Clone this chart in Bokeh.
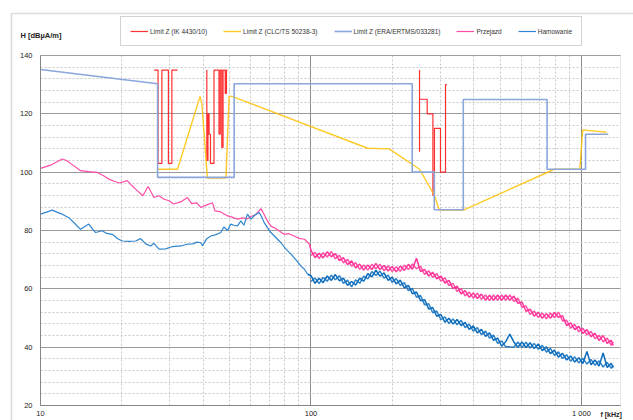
from bokeh.plotting import figure
from bokeh.models import FixedTicker, Legend, LegendItem, Label, BoxAnnotation, Range1d
from bokeh.embed import file_html
from bokeh.resources import INLINE

nan = float("nan")

# ---- Limit Z (IK 4430/10) ----
ik_f = [26.3, 27.2, 27.2, 28.1, 28.1, 29.7, 29.7, 30.6, 30.6, 32.1, nan,
        41.2, 41.2, 41.6, 41.6, 42.0, 42.0, 42.5, 42.5, 43.8, 43.8, 45.7, 45.7, 46.2, 46.2,
        46.8, 46.8, 47.3, 47.3, 48.2, 48.2, 48.7, 48.7, 49.1, nan,
        251.9, 251.9, 251.9, 268.9, 268.9, 282.3, 282.3, 286.0, 286.0, 301.1, 301.1, 314.3, 314.3, 318.0]
ik_y = [135, 135, 103, 103, 135, 135, 103, 103, 135, 135, nan,
        135, 104, 104, 120, 120, 113, 113, 103, 103, 135, 135, 113, 113, 135,
        135, 108.5, 108.5, 135, 135, 127, 127, 135, 135, nan,
        107, 135, 125, 125, 120, 120, 92, 92, 115, 115, 100, 100, 130, 130]

# ---- Limit Z (CLC/TS 50238-3) ----
clc_f = [27.1, 32.1, 38.9, 39.5, 41.4, 48.5, 49.8, 51.0, 162, 194.5, 252, 286, 298, 366, 794, 986, 1010, 1238]
clc_y = [101, 101, 126, 123.5, 98, 98, 126, 126, 108.2, 108, 101, 92, 87, 87, 101, 101, 114.5, 113.7]

# ---- Limit Z (ERA/ERTMS/033281) ----
era_f = [10, 27.1, 27.1, 52.0, 52.0, 236.7, 236.7, 285.6, 285.6, 365.6, 365.6, 746, 746, 1035, 1035, 1256]
era_y = [135.2, 130.3, 98.2, 98.2, 130.3, 130.3, 100, 100, 87.1, 87.1, 124.9, 124.9, 101, 101, 113, 113]

# ---- Przejazd (below 100 kHz) ----
prz_f_low = [10, 10.89, 12.03, 12.48, 13.14, 14.06, 15.05, 16.23, 17.12, 17.91, 18.78, 19.63,
             20.94, 21.72, 22.47, 23.9, 25.0, 26.26, 27.43, 28.53, 29.84, 31.07, 32.98, 34.92,
             36.22, 37.85, 39.12, 41.18, 43.27, 44.12, 46.03, 49.18, 51.04, 53.48, 55.99, 58.24,
             59.95, 62.6, 65.33, 67.1, 69.0, 71.1, 74.3, 79.5, 82.9, 86.6, 90.3, 94.6, 98.8]
prz_y_low = [101.3, 102.4, 104.5, 104.0, 102.5, 100.5, 100.2, 99.9, 98.8, 97.6, 96.8, 96.3,
             97.1, 95.5, 94.2, 91.9, 95.1, 91.3, 91.9, 90.8, 90.2, 89.1, 89.8, 91.3,
             89.2, 89.5, 87.9, 88.8, 89.5, 86.7, 86.5, 85.0, 84.6, 83.9, 84.3, 84.0,
             84.8, 85.5, 87.5, 85.5, 83.3, 81.5, 80.6, 78.7, 78.9, 78.1, 77.3, 77.0, 75.3]

# ---- Hamowanie (below 100 kHz) ----
ham_f_low = [10, 10.52, 11.05, 11.56, 12.03, 12.73, 13.36, 14.06, 14.55, 15.1, 15.58, 15.98,
             16.93, 17.56, 18.44, 19.29, 20.07, 21.18, 22.47, 23.47, 24.48, 25.55, 26.26, 27.43,
             29.04, 30.74, 32.98, 34.92, 36.56, 37.85, 39.12, 39.72, 41.18, 42.62, 44.47, 46.42,
             47.63, 49.18, 50.54, 51.86, 53.48, 55.04, 56.48, 58.24, 59.95, 62.03, 64.35, 65.86,
             67.14, 69.0, 71.1, 74.3, 77.43, 80.8, 84.33, 88.0, 91.8, 94.6, 97.2]
ham_y_low = [85.6, 86.3, 87.0, 86.2, 85.6, 84.4, 82.5, 80.4, 81.3, 82.2, 80.5, 79.3,
             79.9, 79.0, 78.7, 77.2, 76.4, 76.3, 76.4, 77.2, 75.4, 74.7, 75.6, 73.6,
             73.7, 74.5, 74.7, 75.3, 75.4, 76.0, 75.8, 74.8, 77.2, 78.1, 78.6, 79.3,
             81.2, 80.0, 82.2, 81.8, 81.6, 83.3, 81.8, 85.6, 83.9, 85.3, 86.2, 84.5,
             82.7, 81.0, 79.3, 77.5, 75.8, 73.6, 71.9, 69.9, 67.8, 66.7, 65.0]

# ---- noisy part, 100 kHz and up: the two edges of the band, read alternately ----
f_dense = [100, 103.5, 107.2, 110.9, 114.8, 118.9, 123.0, 127.4, 131.8, 136.5,
           141.3, 146.2, 151.4, 156.7, 162.2, 167.9, 173.8, 179.9, 186.2, 192.8,
           199.5, 206.5, 213.8, 221.3, 229.1, 237.1, 245.5, 254.1, 263.0, 272.3,
           281.8, 291.7, 302.0, 312.6, 323.6, 335.0, 346.7, 358.9, 371.5, 384.6,
           398.1, 412.1, 426.6, 441.6, 457.1, 473.2, 489.8, 507.0, 524.8, 543.3,
           562.3, 582.1, 602.6, 623.7, 645.7, 668.3, 691.8, 716.1, 741.3, 767.4,
           794.3, 822.2, 851.1, 881.0, 912.0, 944.1, 977.2, 1011.6, 1047.1, 1083.9,
           1122.0, 1161.4, 1202.3, 1244.5, 1288.2, 1310]
prz_y_dense_a = [73.2, 70.7, 72.2, 70.6, 72.7, 71.0, 72.1, 69.7, 70.7, 68.3,
                 69.6, 67.2, 68.5, 66.4, 68.2, 66.6, 68.7, 66.6, 68.0, 66.1,
                 67.7, 65.8, 67.8, 66.3, 68.4, 66.7, 70.5, 65.9, 66.7, 64.4,
                 65.7, 63.4, 64.4, 62.0, 62.9, 60.1, 60.9, 58.3, 59.4, 57.1,
                 58.6, 56.7, 58.2, 56.1, 57.8, 56.1, 57.9, 56.1, 57.9, 56.1,
                 57.5, 55.0, 55.5, 52.3, 53.0, 50.6, 52.0, 49.9, 51.5, 49.9,
                 51.9, 50.2, 50.8, 47.4, 48.3, 46.0, 47.1, 44.7, 46.0, 43.6,
                 44.7, 42.3, 44.0, 41.3, 42.4, 40.6]
prz_y_dense_b = [71.5, 72.5, 70.4, 72.4, 70.9, 72.8, 70.3, 71.5, 68.9, 70.1,
                 67.8, 69.0, 66.7, 68.2, 66.4, 68.4, 66.9, 68.4, 66.2, 67.9,
                 65.9, 67.6, 66.0, 68.1, 66.6, 68.5, 66.9, 67.7, 64.9, 66.2,
                 63.9, 65.2, 62.6, 63.8, 61.1, 61.9, 59.1, 60.1, 57.6, 58.9,
                 56.8, 58.5, 56.4, 57.9, 56.0, 57.9, 56.1, 57.9, 56.1, 57.9,
                 55.7, 56.8, 53.7, 54.1, 51.2, 52.4, 50.2, 51.7, 49.7, 51.7,
                 50.1, 52.0, 49.0, 49.2, 46.5, 47.8, 45.3, 46.5, 44.2, 45.4,
                 42.9, 44.1, 41.8, 43.1, 40.6, 41.8]
ham_y_dense_a = [64.5, 61.9, 63.6, 62.1, 64.4, 62.9, 64.9, 62.7, 63.7, 61.2,
                 62.5, 61.3, 63.7, 62.6, 65.2, 64.1, 66.4, 64.3, 65.5, 62.9,
                 64.0, 61.7, 63.0, 60.3, 61.2, 58.3, 58.9, 55.9, 56.3, 53.1,
                 53.6, 50.6, 51.2, 48.6, 49.9, 47.9, 49.5, 47.4, 48.5, 46.1,
                 47.3, 44.9, 46.1, 43.7, 44.9, 42.3, 43.1, 40.3, 41.9, 44.5,
                 41.8, 40.0, 41.8, 39.9, 41.5, 39.5, 41.1, 38.8, 40.1, 37.8,
                 39.0, 36.6, 37.9, 35.6, 37.0, 34.9, 36.4, 34.4, 38.5, 34.0,
                 35.6, 33.5, 38.0, 33.0, 34.5, 33.0]
ham_y_dense_b = [62.5, 63.7, 61.8, 63.9, 62.6, 64.7, 63.1, 64.5, 61.9, 63.0,
                 60.7, 63.1, 61.9, 64.4, 63.4, 65.9, 64.6, 66.1, 63.7, 64.7,
                 62.2, 63.5, 61.2, 62.1, 59.4, 60.1, 57.1, 57.7, 54.5, 54.9,
                 51.8, 52.4, 49.4, 50.4, 48.1, 49.7, 47.7, 49.2, 46.7, 47.9,
                 45.5, 46.7, 44.3, 45.5, 43.1, 44.1, 41.3, 42.1, 40.1, 40.1,
                 40.0, 41.8, 40.0, 41.7, 39.7, 41.3, 39.3, 40.6, 38.3, 39.6,
                 37.2, 38.4, 36.1, 37.4, 35.2, 36.7, 34.6, 36.2, 34.2, 35.8,
                 33.8, 35.3, 33.2, 34.8, 32.7, 33.8]

# ---- axes ----
x_lim = (10, 1394)
y_lim = (20, 140)
x_major = [10, 100, 1000]
x_minor = [20, 30, 40, 50, 60, 70, 80, 90, 200, 300, 400, 500, 600, 700, 800, 900]
y_major = [20, 40, 60, 80, 100, 120, 140]
y_minor = [v for v in range(20, 141, 4) if v % 20 != 0]
x_labels = {10: "10", 100: "100", 1000: "1 000"}

FONT = "Liberation Sans"
W, H = 633, 420

# The frame fills the whole canvas; the visible plotting area is limited by bounds.
p = figure(width=W, height=H, x_axis_type="log",
           x_range=Range1d(7.1143, 1557.0), y_range=Range1d(14.857, 158.857),
           output_backend="svg", toolbar_location=None, min_border=0,
           background_fill_color="white", border_fill_color="white")
p.outline_line_color = None

p.xaxis.ticker = FixedTicker(ticks=x_major, minor_ticks=x_minor)
p.yaxis.ticker = FixedTicker(ticks=y_major, minor_ticks=y_minor)
p.xaxis.major_label_overrides = x_labels
p.xaxis.fixed_location = y_lim[0]
p.yaxis.fixed_location = x_lim[0]
p.xaxis.bounds = x_lim
p.yaxis.bounds = y_lim
for ax in (p.xaxis, p.yaxis):
    ax.major_tick_out = 0
    ax.major_tick_in = 0
    ax.minor_tick_out = 0
    ax.minor_tick_in = 0
    ax.axis_line_color = "#7a7a7a"
    ax.major_label_text_font = FONT
    ax.major_label_text_font_size = "7.5px"
    ax.major_label_text_color = "#222222"
p.xaxis.major_label_standoff = 4
p.yaxis.major_label_standoff = 8

p.xgrid.cross_bounds = y_lim
p.ygrid.cross_bounds = x_lim
p.xgrid.grid_line_color = "#8c8c8c"
p.ygrid.grid_line_color = "#9a9a9a"
p.xgrid.minor_grid_line_color = "#c8c8c8"
p.ygrid.minor_grid_line_color = "#c8c8c8"
p.xgrid.minor_grid_line_dash = "2 2"
p.ygrid.minor_grid_line_dash = "2 2"

# plotting-area outline and chart-area outline
p.add_layout(BoxAnnotation(left=x_lim[0], right=x_lim[1], bottom=y_lim[0], top=y_lim[1],
                           fill_alpha=0, line_color="#a8a8a8", line_width=1))
p.add_layout(BoxAnnotation(left=7.81, right=5000, bottom=0, top=154.4,
                           fill_alpha=0, line_color="#8a8a8a", line_width=1.6))

r_ik = p.line(ik_f, ik_y, line_color="#ff1a1a", line_width=1.2, line_alpha=0.9)
r_clc = p.line(clc_f, clc_y, line_color="#ffc000", line_width=1.4, line_alpha=0.85)
r_era = p.line(era_f, era_y, line_color="#8aa6dc", line_width=1.6)

PINK, BLUE = "#ff3399", "#0b6cbd"
r_prz = p.line(prz_f_low, prz_y_low, line_color="#ff4da6", line_width=1.2)
p.line([prz_f_low[-1]] + f_dense, [prz_y_low[-1]] + prz_y_dense_a, line_color=PINK, line_width=1.5)
p.line(f_dense, prz_y_dense_b, line_color=PINK, line_width=1.5, line_alpha=0.85)
r_ham = p.line(ham_f_low, ham_y_low, line_color="#2f85cf", line_width=1.2)
p.line([ham_f_low[-1]] + f_dense, [ham_y_low[-1]] + ham_y_dense_a, line_color=BLUE, line_width=1.5)
p.line(f_dense, ham_y_dense_b, line_color=BLUE, line_width=1.5, line_alpha=0.85)

legend = Legend(items=[
    LegendItem(label="Limit Z (IK 4430/10)", renderers=[r_ik]),
    LegendItem(label="Limit Z (CLC/TS 50238-3)", renderers=[r_clc]),
    LegendItem(label="Limit Z (ERA/ERTMS/033281)", renderers=[r_era]),
    LegendItem(label="Przejazd", renderers=[r_prz]),
    LegendItem(label="Hamowanie", renderers=[r_ham]),
], orientation="horizontal", location=(120, H - 46),
    label_text_font=FONT, label_text_font_size="6.5px", label_text_color="#333333",
    glyph_width=18, glyph_height=10, label_height=10, label_standoff=2,
    spacing=16, padding=9, margin=0,
    border_line_color="#a8a8a8", background_fill_color="white", background_fill_alpha=1)
p.add_layout(legend)

p.add_layout(Label(x=20, y=H - 35, x_units="screen", y_units="screen", text="H  [dBµA/m]",
                   text_font=FONT, text_font_size="7.5px", text_font_style="bold",
                   text_baseline="middle", text_align="left", text_color="#222222"))
p.add_layout(Label(x=600, y=H - 414, x_units="screen", y_units="screen", text="f [kHz]",
                   text_font=FONT, text_font_size="7px", text_font_style="bold",
                   text_baseline="middle", text_align="left", text_color="#222222"))

open("out.html", "w").write(file_html(p, INLINE))
